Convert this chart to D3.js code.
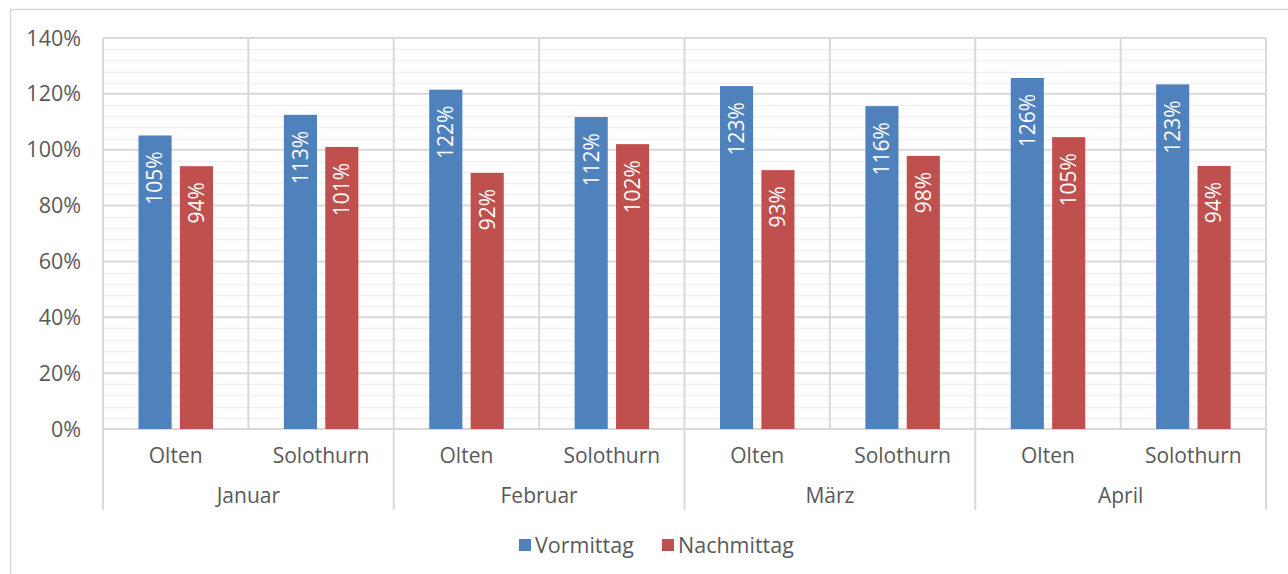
<!DOCTYPE html>
<html>
<head>
<meta charset="utf-8">
<script src="https://cdn.jsdelivr.net/npm/d3@7"></script>
<style>
  body { margin: 0; background: #fff; }
  svg { display: block; font-family: "Open Sans", "Noto Sans", sans-serif; }
</style>
</head>
<body>
<svg id="chart" width="1288" height="574"></svg>
<script>
const months = ["Januar", "Februar", "März", "April"];
const cities = ["Olten", "Solothurn"];
const series = ["Vormittag", "Nachmittag"];
// one value per month x city, in order
const vormittag = [105.1, 112.5, 121.5, 111.7, 122.8, 115.6, 125.7, 123.4];
const nachmittag = [94.1, 101.0, 91.7, 102.0, 92.7, 97.8, 104.5, 94.2];
const yTicks = [0, 20, 40, 60, 80, 100, 120, 140];

const colors = { Vormittag: "#4F81BD", Nachmittag: "#C0504D" };
const textColor = "#595959";

const svg = d3.select("#chart");

// outer chart border
svg.append("rect")
    .attr("x", 10.5).attr("y", 9.5)
    .attr("width", 1300).attr("height", 600)
    .attr("fill", "none").attr("stroke", "#d9d9d9").attr("stroke-width", 1.5);

const plotL = 103, plotR = 1266, plotT = 38, plotB = 429, labelBottom = 510;

const cats = [];
months.forEach((m) => cities.forEach((c) => cats.push(m + "|" + c)));

const x0 = d3.scaleBand().domain(cats).range([plotL, plotR]);
const xm = d3.scaleBand().domain(months).range([plotL, plotR]);
const x1 = d3.scaleBand().domain(series).range([35.5, 110]).paddingInner(0.2);
const y = d3.scaleLinear().domain([0, 140]).range([plotB, plotT]);

const rows = cats.map((c, i) => ({ cat: c, Vormittag: vormittag[i], Nachmittag: nachmittag[i] }));

// minor gridlines every 4%
const grid = svg.append("g");
grid.selectAll("line.minor")
    .data(d3.range(4, 140, 4).filter((v) => v % 20 !== 0))
    .join("line")
    .attr("class", "minor")
    .attr("x1", plotL).attr("x2", plotR)
    .attr("y1", (d) => Math.round(y(d)) + 0.5).attr("y2", (d) => Math.round(y(d)) + 0.5)
    .attr("stroke", "#f0f0f0").attr("stroke-width", 1.5);

grid.selectAll("line.major")
    .data(yTicks.filter((v) => v > 0))
    .join("line")
    .attr("class", "major")
    .attr("x1", plotL).attr("x2", plotR)
    .attr("y1", (d) => y(d)).attr("y2", (d) => y(d))
    .attr("stroke", "#d9d9d9").attr("stroke-width", 2);

// vertical category lines
grid.selectAll("line.vcat")
    .data(cats.map((c) => x0(c)).concat([plotR]))
    .join("line")
    .attr("class", "vcat")
    .attr("x1", (d) => d).attr("x2", (d) => d)
    .attr("y1", plotT)
    .attr("y2", (d, i) => (i % 2 === 0 ? labelBottom : plotB))
    .attr("stroke", "#d9d9d9").attr("stroke-width", 2);

// baseline
svg.append("line")
    .attr("x1", plotL).attr("x2", plotR)
    .attr("y1", plotB).attr("y2", plotB)
    .attr("stroke", "#d9d9d9").attr("stroke-width", 2);

// y axis labels
svg.append("g").selectAll("text")
    .data(yTicks)
    .join("text")
    .attr("x", 81).attr("y", (d) => y(d))
    .attr("dy", "0.35em")
    .attr("text-anchor", "end")
    .attr("fill", textColor)
    .style("font-size", "21.5px")
    .text((d) => d + "%");

// bars
const groups = svg.append("g").selectAll("g")
    .data(rows)
    .join("g")
    .attr("transform", (d) => `translate(${x0(d.cat)},0)`);

groups.selectAll("rect")
    .data((d) => series.map((s) => ({ s: s, v: d[s] })))
    .join("rect")
    .attr("x", (d) => x1(d.s))
    .attr("width", x1.bandwidth())
    .attr("y", (d) => y(d.v))
    .attr("height", (d) => y(0) - y(d.v))
    .attr("fill", (d) => colors[d.s]);

groups.selectAll("text")
    .data((d) => series.map((s) => ({ s: s, v: d[s] })))
    .join("text")
    .attr("transform", (d) => `translate(${x1(d.s) + x1.bandwidth() / 2},${y(d.v) + 16}) rotate(-90)`)
    .attr("dy", "0.35em")
    .attr("text-anchor", "end")
    .attr("fill", "#fff")
    .style("font-size", "21px")
    .text((d) => Math.round(d.v) + "%");

// category labels
svg.append("g").selectAll("text")
    .data(cats)
    .join("text")
    .attr("x", (d) => x0(d) + x0.bandwidth() / 2)
    .attr("y", 456)
    .attr("dy", "0.35em")
    .attr("text-anchor", "middle")
    .attr("fill", textColor)
    .style("font-size", "21px")
    .text((d) => d.split("|")[1]);

svg.append("g").selectAll("text")
    .data(months)
    .join("text")
    .attr("x", (d) => xm(d) + xm.bandwidth() / 2)
    .attr("y", 496)
    .attr("dy", "0.35em")
    .attr("text-anchor", "middle")
    .attr("fill", textColor)
    .style("font-size", "21px")
    .text((d) => d);

// legend
const legendX = { Vormittag: 519, Nachmittag: 662 };
const legend = svg.append("g").selectAll("g")
    .data(series)
    .join("g")
    .attr("transform", (d) => `translate(${legendX[d]},545)`);

legend.append("rect")
    .attr("x", 0).attr("y", -6)
    .attr("width", 12).attr("height", 12)
    .attr("fill", (d) => colors[d]);

legend.append("text")
    .attr("x", 16)
    .attr("dy", "0.35em")
    .attr("fill", textColor)
    .style("font-size", "21.5px")
    .text((d) => d);
</script>
</body>
</html>
